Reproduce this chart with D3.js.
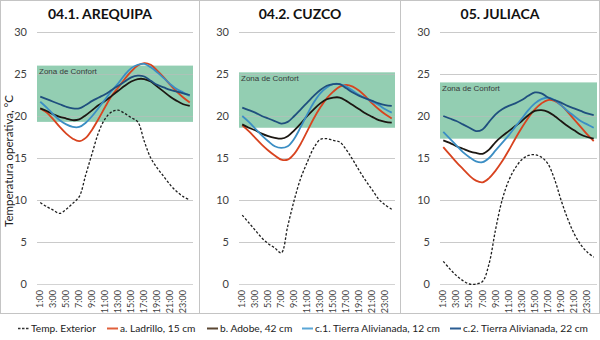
<!DOCTYPE html>
<html lang="es">
<head>
    <meta charset="UTF-8">
    <title>Temperatura operativa - Arequipa, Cuzco, Juliaca</title>
    <script src="https://d3js.org/d3.v7.min.js"></script>
    <style>
        body { margin: 0; background: #fff; font-family: Lato, 'Open Sans', sans-serif; }
        svg { display: block; }
        .tick-label { font-size: 11px; fill: #404040; }
        .hour-label { font-size: 9px; fill: #404040; }
        .panel-title { font-size: 14px; font-weight: bold; fill: #111; }
        .zone-label { font-family: 'Liberation Sans', Arial, sans-serif; font-size: 8px; fill: #3a3a3a; }
        .legend-text { font-size: 10.2px; fill: #222; }
    </style>
</head>
<body>
<div id="chart"></div>
<script>
    // horas del día
    const hours = d3.range(1, 25).map(h => h + ":00");
    const yTicks = [0, 5, 10, 15, 20, 25, 30];
    const cityNames = ["04.1. AREQUIPA", "04.2. CUZCO", "05. JULIACA"];
    const seriesNames = ["Temp. Exterior", "a. Ladrillo, 15 cm", "b. Adobe, 42 cm",
        "c.1. Tierra Alivianada, 12 cm", "c.2. Tierra Alivianada, 22 cm"];

    // zona de confort [min, max] por ciudad
    const comfortArequipa = [19.3, 26.0];
    const comfortCuzco = [18.6, 25.2];
    const comfortJuliaca = [17.3, 24.0];

    // Arequipa
    const arequipaExt = [9.7, 9.2, 8.8, 8.4, 8.9, 9.6, 10.4, 13.0, 15.6, 18.1, 19.7, 20.5, 20.7, 20.3, 19.8, 19.3, 17.0, 15.0, 13.8, 12.8, 11.8, 11.0, 10.4, 10.0];
    const arequipaLad = [20.9, 20.4, 19.6, 18.7, 17.9, 17.3, 17.0, 17.4, 18.4, 19.7, 21.1, 22.4, 23.4, 24.4, 25.3, 26.0, 26.3, 26.1, 25.4, 24.6, 23.7, 22.9, 22.2, 21.6];
    const arequipaAdo = [20.9, 20.6, 20.2, 19.9, 19.7, 19.5, 19.6, 20.1, 20.7, 21.3, 21.8, 22.4, 23.0, 23.6, 24.1, 24.4, 24.4, 24.1, 23.5, 22.9, 22.3, 21.8, 21.4, 21.2];
    const arequipaC1 = [21.7, 21.0, 20.2, 19.5, 19.0, 18.7, 18.7, 19.2, 20.0, 21.0, 22.0, 23.0, 23.9, 24.9, 25.7, 26.1, 26.2, 25.8, 25.2, 24.5, 23.8, 23.2, 22.8, 22.4];
    const arequipaC2 = [22.3, 22.0, 21.7, 21.4, 21.1, 20.9, 20.9, 21.3, 21.8, 22.2, 22.6, 23.1, 23.6, 24.1, 24.6, 24.8, 24.7, 24.2, 23.7, 23.4, 23.1, 22.9, 22.7, 22.5];

    // Cuzco
    const cuzcoExt = [8.2, 7.3, 6.4, 5.5, 4.8, 4.3, 3.7, 6.9, 10.0, 12.6, 14.5, 16.2, 17.2, 17.3, 17.1, 16.9, 16.0, 14.8, 13.5, 12.3, 11.2, 10.1, 9.4, 8.9];
    const cuzcoLad = [18.9, 18.2, 17.4, 16.6, 15.9, 15.3, 14.8, 14.8, 15.5, 16.7, 18.2, 19.7, 21.0, 22.1, 22.9, 23.5, 23.7, 23.5, 23.0, 22.3, 21.5, 20.8, 20.2, 19.7];
    const cuzcoAdo = [19.0, 18.6, 18.3, 17.9, 17.6, 17.4, 17.3, 17.6, 18.3, 19.1, 20.0, 20.8, 21.5, 22.0, 22.2, 22.2, 21.8, 21.3, 20.8, 20.3, 19.9, 19.5, 19.3, 19.2];
    const cuzcoC1 = [20.0, 19.3, 18.5, 17.7, 17.0, 16.4, 16.2, 16.4, 17.3, 18.7, 20.2, 21.6, 22.7, 23.4, 23.8, 23.8, 23.5, 23.0, 22.5, 22.1, 21.7, 21.3, 20.8, 20.4];
    const cuzcoC2 = [21.0, 20.7, 20.4, 20.0, 19.7, 19.4, 19.1, 19.3, 20.0, 20.8, 21.6, 22.4, 23.1, 23.6, 23.8, 23.8, 23.3, 22.8, 22.4, 22.1, 21.8, 21.5, 21.3, 21.2];

    // Juliaca
    const juliacaExt = [2.7, 1.8, 1.0, 0.4, 0.0, 0.0, 0.3, 2.4, 6.5, 10.0, 12.3, 13.8, 14.8, 15.3, 15.4, 15.1, 14.3, 12.5, 10.0, 7.8, 6.0, 4.7, 3.8, 3.2];
    const juliacaLad = [16.3, 15.4, 14.5, 13.7, 12.9, 12.3, 12.1, 12.6, 13.5, 14.6, 15.9, 17.3, 18.6, 19.8, 20.8, 21.5, 21.9, 21.8, 21.3, 20.5, 19.6, 18.7, 17.8, 17.0];
    const juliacaAdo = [17.1, 16.8, 16.4, 16.1, 15.8, 15.6, 15.5, 16.0, 16.9, 17.6, 18.2, 18.8, 19.4, 20.1, 20.6, 20.7, 20.5, 20.0, 19.4, 18.8, 18.3, 17.8, 17.5, 17.3];
    const juliacaC1 = [18.1, 17.3, 16.5, 15.7, 15.1, 14.6, 14.5, 15.0, 15.9, 16.8, 17.7, 18.7, 19.7, 20.7, 21.5, 22.0, 22.2, 21.9, 21.3, 20.6, 20.0, 19.4, 19.0, 18.6];
    const juliacaC2 = [20.0, 19.7, 19.4, 19.0, 18.6, 18.2, 18.4, 19.3, 20.2, 20.8, 21.2, 21.5, 21.9, 22.4, 22.8, 22.7, 22.2, 21.9, 21.6, 21.2, 20.9, 20.6, 20.3, 20.1];

    const cities = [
        { name: cityNames[0], comfort: comfortArequipa, series: [arequipaExt, arequipaLad, arequipaAdo, arequipaC1, arequipaC2] },
        { name: cityNames[1], comfort: comfortCuzco, series: [cuzcoExt, cuzcoLad, cuzcoAdo, cuzcoC1, cuzcoC2] },
        { name: cityNames[2], comfort: comfortJuliaca, series: [juliacaExt, juliacaLad, juliacaAdo, juliacaC1, juliacaC2] }
    ];

    const colors = ["#1e1e1e", "#d8431f", "#1c1712", "#3b8ec4", "#1f4f7e"];
    const legendColors = ["#333333", "#e0603c", "#5a4632", "#5aa6d6", "#2a5c92"];

    const width = 600, height = 340;
    // límites de cada panel (marco) y de su área de trazado
    const panels = [
        { frame: [0.5, 199.5], plot: [37, 193] },
        { frame: [199.5, 400.5], plot: [239, 395] },
        { frame: [400.5, 599.5], plot: [440, 597] }
    ];
    const yTop = 32, yBottom = 284, frameBottom = 313;

    const svg = d3.select("#chart").append("svg")
        .attr("width", width)
        .attr("height", height);

    const y = d3.scaleLinear().domain([0, 30]).range([yBottom, yTop]);

    cities.forEach((city, i) => {
        const p = panels[i];
        const g = svg.append("g");

        g.append("rect")
            .attr("x", p.frame[0]).attr("y", 0.5)
            .attr("width", p.frame[1] - p.frame[0]).attr("height", frameBottom)
            .attr("fill", "none").attr("stroke", "#c4c4c4").attr("stroke-width", 1);

        const x = d3.scaleBand().domain(hours).range(p.plot);
        const cx = d => x(d) + x.bandwidth() / 2;

        // zona de confort
        g.append("rect")
            .attr("x", p.plot[0])
            .attr("y", y(city.comfort[1]))
            .attr("width", p.plot[1] - p.plot[0])
            .attr("height", y(city.comfort[0]) - y(city.comfort[1]))
            .attr("fill", "#93ceb2");

        g.append("text")
            .attr("class", "zone-label")
            .attr("x", p.plot[0] + 2)
            .attr("y", y(city.comfort[1]) + 8.5)
            .text("Zona de Confort");

        // líneas de cuadrícula
        g.selectAll(".grid").data(yTicks).enter().append("line")
            .attr("x1", p.plot[0]).attr("x2", p.plot[1])
            .attr("y1", d => y(d) + 0.5).attr("y2", d => y(d) + 0.5)
            .attr("stroke", d => d === 0 ? "#c8c8c8" : "#bdbdbd")
            .attr("stroke-opacity", d => (d >= city.comfort[0] && d <= city.comfort[1]) ? 0.6 : 0.8)
            .attr("stroke-width", 1);

        g.selectAll(".ytick").data(yTicks).enter().append("text")
            .attr("class", "tick-label")
            .attr("x", p.plot[0] - 10)
            .attr("y", d => y(d) + 4)
            .attr("text-anchor", "end")
            .text(d => d);

        g.selectAll(".xtick").data(hours.filter((h, k) => k % 2 === 0)).enter().append("text")
            .attr("class", "hour-label")
            .attr("transform", d => `translate(${cx(d) + 3},${yBottom + 6}) rotate(-90)`)
            .attr("text-anchor", "end")
            .text(d => d);

        g.append("text")
            .attr("class", "panel-title")
            .attr("x", (p.frame[0] + p.frame[1]) / 2)
            .attr("y", 18.5)
            .attr("text-anchor", "middle")
            .text(city.name);

        const line = d3.line()
            .x((d, k) => cx(hours[k]))
            .y(d => y(d))
            .curve(d3.curveCatmullRom.alpha(0.5));

        city.series.forEach((s, k) => {
            g.append("path")
                .datum(s)
                .attr("d", line)
                .attr("fill", "none")
                .attr("stroke", colors[k])
                .attr("stroke-width", k === 0 ? 1.3 : 1.8)
                .attr("stroke-dasharray", k === 0 ? "2.5,1.8" : null);
        });
    });

    // título del eje Y
    svg.append("text")
        .attr("transform", `translate(12.5,${(yTop + yBottom) / 2 + 3}) rotate(-90)`)
        .attr("text-anchor", "middle")
        .attr("font-size", 11.5)
        .attr("fill", "#222")
        .text("Temperatura operativa, °C");

    // leyenda
    const legendX = [18, 107, 207, 302, 450];
    const legendY = 332;
    const legend = svg.append("g");
    seriesNames.forEach((name, k) => {
        const item = legend.append("g").attr("transform", `translate(${legendX[k]},${legendY})`);
        item.append("line")
            .attr("x1", 0).attr("x2", 11)
            .attr("y1", -3.5).attr("y2", -3.5)
            .attr("stroke", legendColors[k])
            .attr("stroke-width", k === 0 ? 1.3 : 2)
            .attr("stroke-dasharray", k === 0 ? "2.5,1.5" : null);
        item.append("text")
            .attr("class", "legend-text")
            .attr("x", 13)
            .attr("y", 0)
            .text(name);
    });
</script>
</body>
</html>
